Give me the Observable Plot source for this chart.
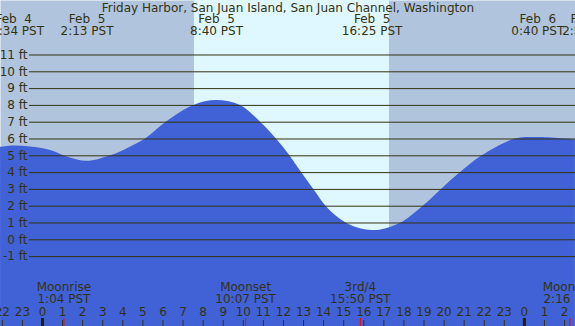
<!DOCTYPE html>
<html>
<head>
<meta charset="utf-8">
<script src="https://cdn.jsdelivr.net/npm/d3@7"></script>
<script src="https://cdn.jsdelivr.net/npm/@observablehq/plot@0.6"></script>
<style>
  html, body { margin: 0; padding: 0; background: #fff; }
  #chart svg { display: block; }
</style>
</head>
<body>
<div id="chart"></div>
<script>
// Hours are counted from Feb 5 00:00 PST
const title = "Friday Harbor, San Juan Island, San Juan Channel, Washington";

// Tide curve readings (hour, feet)
const tideHours = [-2.09, -1.43, -0.6, 0.4, 1.3, 2.22, 3.39, 4.3, 5.13, 6.16, 7.54, 8.67, 9.86, 10.86, 11.65, 12.32, 12.9, 13.51, 14.12, 14.62, 15.12, 15.7, 16.42, 16.9, 17.86, 18.96, 19.87, 20.82, 21.9, 23.56, 24.7, 26.54];
const tideFeet  = [5.5, 5.58, 5.52, 5.32, 4.9, 4.67, 5.0, 5.47, 6.0, 7.0, 8.0, 8.29, 8.0, 7.0, 6.0, 5.0, 4.0, 3.0, 2.0, 1.42, 1.0, 0.7, 0.55, 0.6, 1.0, 2.0, 3.0, 4.0, 5.0, 6.0, 6.09, 5.95];

// High / low tide labels
const eventHours = [-1.433, 2.217, 8.667, 16.417, 24.667, 27.2];
const eventDays  = ["Feb  4", "Feb  5", "Feb  5", "Feb  5", "Feb  6", "Feb  6"];
const eventTimes = ["22:34 PST", "2:13 PST", "8:40 PST", "16:25 PST", "0:40 PST", "2:55 PST"];

// Moon events
const moonHours = [1.067, 10.117, 15.833, 26.267];
const moonNames = ["Moonrise", "Moonset", "3rd/4", "Moonrise"];
const moonTimes = ["1:04 PST", "10:07 PST", "15:50 PST", "2:16 PST"];

// Daylight
const sunrise = 7.57;
const sunset = 17.28;

// Axis values
const feetTicks = [-1, 0, 1, 2, 3, 4, 5, 6, 7, 8, 9, 10, 11];
const hourTicks = d3.range(-2, 27);
const midnights = [0, 24];

const xDomain = [-2.092, 26.545];
const yDomain = [-5.161, 14.244];

const night = "#b0c4de";
const day = "#dff7ff";
const water = "#4161d7";
const ink = "#333311";

const tide = tideHours.map((h, i) => ({h, ft: tideFeet[i]}));
const events = eventHours.map((h, i) => ({h, day: eventDays[i], time: eventTimes[i]}));
const moon = moonHours.map((h, i) => ({h, name: moonNames[i], time: moonTimes[i]}));

const txt = {frameAnchor: "top", lineAnchor: "middle", fill: ink};

const chart = Plot.plot({
  width: 575,
  height: 326,
  margin: 0,
  x: {domain: xDomain, axis: null},
  y: {domain: yDomain, axis: null},
  style: {fontFamily: "DejaVu Sans", fontSize: "12px", background: "none", overflow: "hidden"},
  marks: [
    Plot.frame({fill: night, stroke: "none"}),
    Plot.rect([{a: sunrise, b: sunset}], {x1: "a", x2: "b", fill: day}),
    Plot.areaY(tide, {x: "h", y1: () => yDomain[0], y2: "ft", curve: "catmull-rom", fill: water}),
    Plot.ruleY(feetTicks, {y: d => d, insetLeft: 29, stroke: ink, strokeWidth: 1}),
    Plot.text(feetTicks, {y: d => d, text: d => `${d} ft`, frameAnchor: "left", dx: 27, textAnchor: "end", lineAnchor: "middle", fill: ink}),
    Plot.text([title], {...txt, text: d => d, dy: 8}),
    Plot.text(events, {...txt, x: "h", text: "day", dy: 19}),
    Plot.text(events, {...txt, x: "h", text: "time", dy: 31}),
    Plot.text(moon, {...txt, x: "h", text: "name", dy: 287}),
    Plot.text(moon, {...txt, x: "h", text: "time", dy: 299}),
    Plot.text(hourTicks, {...txt, x: d => d, text: d => String(((d % 24) + 24) % 24), dy: 312}),
    Plot.ruleX(hourTicks, {x: d => d, insetTop: 320, stroke: ink, strokeWidth: 1}),
    Plot.ruleX(midnights, {x: d => d, insetTop: 318, stroke: "#222200", strokeWidth: 3}),
    Plot.ruleX(moonHours, {x: d => d, insetTop: 318, stroke: "red", strokeWidth: 1})
  ]
});
document.getElementById("chart").appendChild(chart);
</script>
</body>
</html>
